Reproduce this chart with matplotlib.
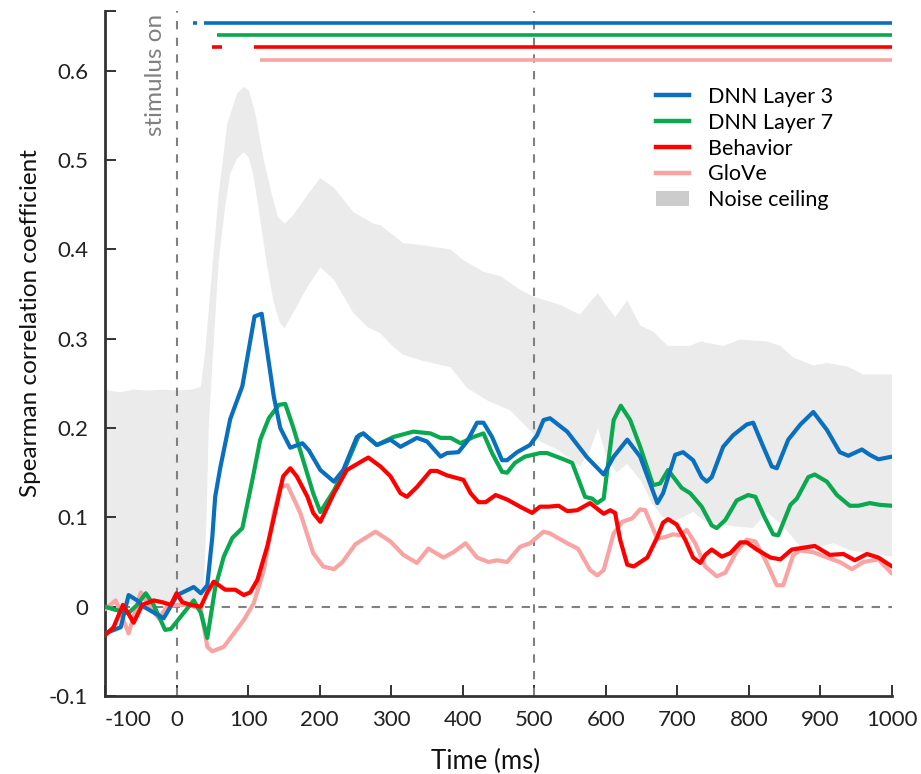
import numpy as np
import matplotlib.pyplot as plt
from matplotlib.lines import Line2D
from matplotlib.patches import Patch

plt.rcParams['font.family'] = ['Lato', 'DejaVu Sans']

# ---------------------------- data (time in ms, Spearman r) ----------------------------

layer3 = np.array([
    (-100, -0.030), (-78, -0.023), (-67, 0.013), (-55, 0.007), (-46, 0.000), (-18, -0.013),
    (1, 0.013), (24, 0.022), (34, 0.015), (43, 0.024), (50, 0.078), (54, 0.123), (61, 0.155),
    (75, 0.210), (92, 0.247), (109, 0.325), (119, 0.328), (136, 0.235), (145, 0.200),
    (159, 0.178), (176, 0.183), (185, 0.175), (201, 0.153), (220, 0.140), (233, 0.153),
    (252, 0.190), (261, 0.194), (280, 0.181), (299, 0.187), (313, 0.179), (336, 0.189),
    (350, 0.185), (369, 0.168), (378, 0.172), (394, 0.173), (406, 0.185), (420, 0.206),
    (429, 0.206), (441, 0.190), (455, 0.164), (462, 0.164), (476, 0.173), (494, 0.181),
    (504, 0.192), (513, 0.209), (522, 0.211), (546, 0.196), (574, 0.167), (597, 0.148),
    (611, 0.168), (630, 0.187), (648, 0.168), (672, 0.116), (680, 0.127), (697, 0.170),
    (708, 0.173), (722, 0.164), (734, 0.145), (741, 0.140), (748, 0.145), (764, 0.179),
    (778, 0.192), (797, 0.204), (806, 0.206), (818, 0.183), (832, 0.157), (839, 0.155),
    (855, 0.187), (872, 0.204), (890, 0.218), (909, 0.198), (927, 0.173), (939, 0.169),
    (958, 0.176), (969, 0.170), (981, 0.165), (1000, 0.168)])

layer7 = np.array([
    (-100, 0.000), (-88, -0.003), (-67, -0.007), (-55, 0.002), (-43, 0.015), (-32, 0.002),
    (-16, -0.026), (-8, -0.025), (6, -0.011), (24, 0.007), (34, -0.007), (43, -0.035),
    (54, 0.021), (66, 0.056), (78, 0.077), (92, 0.088), (106, 0.142), (117, 0.187),
    (129, 0.211), (143, 0.226), (152, 0.227), (163, 0.201), (177, 0.164), (191, 0.127),
    (201, 0.106), (220, 0.130), (238, 0.160), (255, 0.192), (261, 0.194), (280, 0.181),
    (303, 0.190), (331, 0.196), (355, 0.194), (369, 0.189), (383, 0.189), (397, 0.183),
    (415, 0.190), (429, 0.194), (441, 0.172), (455, 0.151), (462, 0.150), (473, 0.161),
    (487, 0.168), (508, 0.172), (518, 0.172), (541, 0.165), (553, 0.161), (571, 0.123),
    (581, 0.121), (588, 0.116), (597, 0.121), (611, 0.209), (621, 0.225), (634, 0.209),
    (648, 0.179), (666, 0.136), (676, 0.138), (687, 0.153), (706, 0.133), (718, 0.127),
    (734, 0.112), (748, 0.091), (755, 0.088), (767, 0.097), (783, 0.119), (799, 0.125),
    (809, 0.123), (822, 0.100), (834, 0.081), (841, 0.080), (858, 0.114), (867, 0.121),
    (883, 0.145), (892, 0.148), (909, 0.140), (923, 0.125), (941, 0.113), (953, 0.113),
    (969, 0.116), (983, 0.114), (1000, 0.113)])

behavior = np.array([
    (-100, -0.032), (-88, -0.023), (-75, 0.002), (-68, -0.007), (-60, -0.018), (-48, 0.002),
    (-32, 0.007), (-20, 0.005), (-8, 0.002), (0, 0.015), (8, 0.005), (20, 0.002), (34, 0.000),
    (43, 0.016), (52, 0.028), (68, 0.019), (82, 0.019), (94, 0.013), (103, 0.016), (113, 0.030),
    (127, 0.068), (141, 0.117), (149, 0.146), (159, 0.155), (168, 0.146), (183, 0.123),
    (191, 0.105), (201, 0.095), (220, 0.127), (238, 0.153), (255, 0.161), (268, 0.167),
    (285, 0.157), (299, 0.146), (313, 0.127), (322, 0.123), (336, 0.134), (355, 0.152),
    (364, 0.152), (378, 0.147), (392, 0.144), (401, 0.142), (411, 0.127), (422, 0.117),
    (432, 0.117), (446, 0.125), (462, 0.120), (480, 0.112), (497, 0.105), (508, 0.112),
    (520, 0.112), (534, 0.113), (546, 0.107), (560, 0.108), (578, 0.116), (597, 0.104),
    (606, 0.108), (613, 0.105), (620, 0.075), (630, 0.047), (639, 0.045), (658, 0.055),
    (672, 0.078), (680, 0.094), (687, 0.098), (699, 0.092), (711, 0.075), (722, 0.055),
    (732, 0.049), (739, 0.058), (748, 0.064), (762, 0.056), (774, 0.060), (788, 0.072),
    (797, 0.072), (811, 0.064), (830, 0.055), (844, 0.053), (860, 0.064), (876, 0.066),
    (892, 0.068), (913, 0.058), (932, 0.059), (948, 0.052), (965, 0.059), (981, 0.055),
    (1000, 0.045)])

glove = np.array([
    (-100, -0.003), (-85, 0.007), (-67, -0.030), (-50, 0.016), (-39, 0.002), (-25, -0.013),
    (-13, 0.000), (1, 0.002), (17, 0.002), (34, -0.003), (43, -0.045), (50, -0.050),
    (66, -0.045), (80, -0.030), (94, -0.015), (108, 0.004), (122, 0.041), (136, 0.105),
    (145, 0.134), (155, 0.136), (173, 0.105), (191, 0.060), (205, 0.045), (220, 0.042),
    (232, 0.050), (250, 0.070), (278, 0.084), (299, 0.073), (317, 0.058), (336, 0.049),
    (352, 0.065), (373, 0.055), (387, 0.061), (404, 0.071), (420, 0.055), (436, 0.050),
    (448, 0.052), (462, 0.050), (480, 0.067), (494, 0.071), (513, 0.084), (522, 0.082),
    (546, 0.071), (561, 0.065), (578, 0.041), (588, 0.035), (597, 0.041), (611, 0.082),
    (623, 0.095), (637, 0.099), (648, 0.109), (655, 0.108), (672, 0.076), (683, 0.078),
    (694, 0.081), (704, 0.080), (713, 0.086), (725, 0.071), (739, 0.045), (755, 0.034),
    (767, 0.038), (783, 0.062), (797, 0.075), (809, 0.073), (825, 0.049), (839, 0.024),
    (848, 0.024), (862, 0.058), (872, 0.063), (890, 0.061), (906, 0.056), (927, 0.050),
    (944, 0.042), (960, 0.050), (981, 0.053), (1000, 0.037)])

noise_upper = np.array([
    (-100, 0.243), (-80, 0.240), (-60, 0.243), (-40, 0.242), (-20, 0.243), (0, 0.242),
    (20, 0.243), (34, 0.246), (40, 0.285), (47, 0.351), (59, 0.463), (71, 0.541), (85, 0.575),
    (94, 0.582), (101, 0.578), (110, 0.553), (122, 0.500), (134, 0.459), (142, 0.436),
    (151, 0.429), (163, 0.438), (183, 0.461), (201, 0.480), (220, 0.469), (247, 0.442),
    (275, 0.429), (285, 0.427), (303, 0.416), (317, 0.407), (341, 0.405), (383, 0.400),
    (401, 0.388), (429, 0.375), (453, 0.370), (480, 0.355), (499, 0.347), (536, 0.338),
    (564, 0.327), (578, 0.341), (589, 0.351), (602, 0.336), (613, 0.324), (630, 0.343),
    (648, 0.315), (666, 0.308), (687, 0.292), (718, 0.292), (732, 0.297), (764, 0.292),
    (788, 0.299), (825, 0.297), (844, 0.292), (862, 0.279), (890, 0.270), (909, 0.273),
    (937, 0.269), (960, 0.260), (1000, 0.260)])

noise_lower = np.array([
    (-100, 0.002), (-60, 0.003), (-20, 0.002), (34, 0.003), (38, 0.020), (42, 0.100),
    (45, 0.200), (50, 0.270), (59, 0.388), (68, 0.448), (75, 0.485), (85, 0.502), (94, 0.509),
    (101, 0.503), (108, 0.481), (117, 0.433), (127, 0.380), (136, 0.340), (145, 0.317),
    (151, 0.312), (163, 0.329), (183, 0.358), (201, 0.380), (220, 0.366), (247, 0.329),
    (267, 0.313), (285, 0.306), (303, 0.291), (317, 0.282), (341, 0.276), (383, 0.268),
    (406, 0.245), (434, 0.231), (466, 0.220), (497, 0.195), (508, 0.185), (532, 0.176),
    (564, 0.157), (578, 0.175), (589, 0.200), (602, 0.165), (615, 0.150), (630, 0.160),
    (650, 0.140), (665, 0.115), (680, 0.100), (700, 0.097), (722, 0.106), (740, 0.095),
    (778, 0.090), (806, 0.088), (825, 0.106), (848, 0.090), (872, 0.067), (899, 0.067),
    (918, 0.071), (941, 0.063), (965, 0.060), (1000, 0.056)])

# significant time windows (ms)
sig_layer3 = [(23, 28), (39, 1000)]
sig_layer7 = [(57, 1000)]
sig_behavior = [(50, 64), (108, 1000)]
sig_glove = [(117, 1000)]

names = ['DNN Layer 3', 'DNN Layer 7', 'Behavior', 'GloVe']
c_l3, c_l7, c_beh, c_glo = '#0a6fbd', '#0aa84f', '#ff0000', '#f9a3a3'

# ---------------------------------- plotting ----------------------------------

fig = plt.figure(figsize=(9.21, 7.74), dpi=100)
ax = fig.add_axes([0.114, 0.1008, 0.8545, 0.885])

# noise ceiling band
poly = np.vstack([noise_upper, noise_lower[::-1]])
ax.fill(poly[:, 0], poly[:, 1], color='#ebebeb', lw=0, zorder=1)

# reference lines
ax.axhline(0, color='#808080', lw=1.5, ls=(0, (4, 4)), zorder=2)
ax.axvline(0, color='#808080', lw=1.5, ls=(0, (4, 4)), zorder=2)
ax.axvline(500, color='#808080', lw=1.5, ls=(0, (4, 4)), zorder=2)
ax.text(-29, 0.664, 'stimulus on', rotation=90, ha='center', va='top', fontsize=17.5,
        color='#808080')

# curves
kw = dict(lw=3.0, solid_joinstyle='round', solid_capstyle='round')
ax.plot(glove[:, 0], glove[:, 1], color=c_glo, zorder=3, **kw)
ax.plot(layer7[:, 0], layer7[:, 1], color=c_l7, zorder=4, **kw)
ax.plot(layer3[:, 0], layer3[:, 1], color=c_l3, zorder=5, **kw)
ax.plot(behavior[:, 0], behavior[:, 1], color=c_beh, zorder=6, **kw)

# significance bars
for sig, yy, c in [(sig_layer3, 0.653, c_l3), (sig_layer7, 0.6405, c_l7),
                   (sig_behavior, 0.627, c_beh), (sig_glove, 0.6125, c_glo)]:
    for t0, t1 in sig:
        ax.plot([t0, t1], [yy, yy], color=c, lw=2.6, solid_capstyle='butt', zorder=6)

ax.set_xlim(-100, 1000)
ax.set_ylim(-0.1, 0.667)

xt = np.arange(-100, 1001, 100)
ax.set_xticks(xt)
ax.set_xticklabels([str(v) for v in xt])
yt = [-0.1, 0, 0.1, 0.2, 0.3, 0.4, 0.5, 0.6, 0.667]
ax.set_yticks(yt)
ax.set_yticklabels(['-0.1', '0', '0.1', '0.2', '0.3', '0.4', '0.5', '0.6', ''])
ax.get_xticklabels()[0].set_horizontalalignment('left')

ax.tick_params(direction='in', length=8, width=1.4, color='#333333', labelsize=16,
               labelcolor='#222222', pad=10)
ax.tick_params(axis='y', pad=12)
for s in ['top', 'right']:
    ax.spines[s].set_visible(False)
for s in ['left', 'bottom']:
    ax.spines[s].set_linewidth(2)
    ax.spines[s].set_color('#333333')

ax.set_xlabel('Time (ms)', fontsize=18.5, color='#111111')
ax.xaxis.set_label_coords(0.483, -0.077)
ax.set_ylabel('Spearman correlation coefficient', fontsize=17.5, color='#111111')
ax.yaxis.set_label_coords(-0.081, 0.545)

handles = [Line2D([], [], color=c, lw=3.2) for c in [c_l3, c_l7, c_beh, c_glo]]
handles.append(Patch(facecolor='#cccccc', edgecolor='none'))
ax.legend(handles, names + ['Noise ceiling'], loc='upper left', bbox_to_anchor=(0.70, 0.889),
          frameon=False, fontsize=15.5, handlelength=1.55, handletextpad=0.85,
          labelspacing=0.27, borderpad=0, borderaxespad=0)

plt.savefig('out.png', dpi=100)
plt.close()
